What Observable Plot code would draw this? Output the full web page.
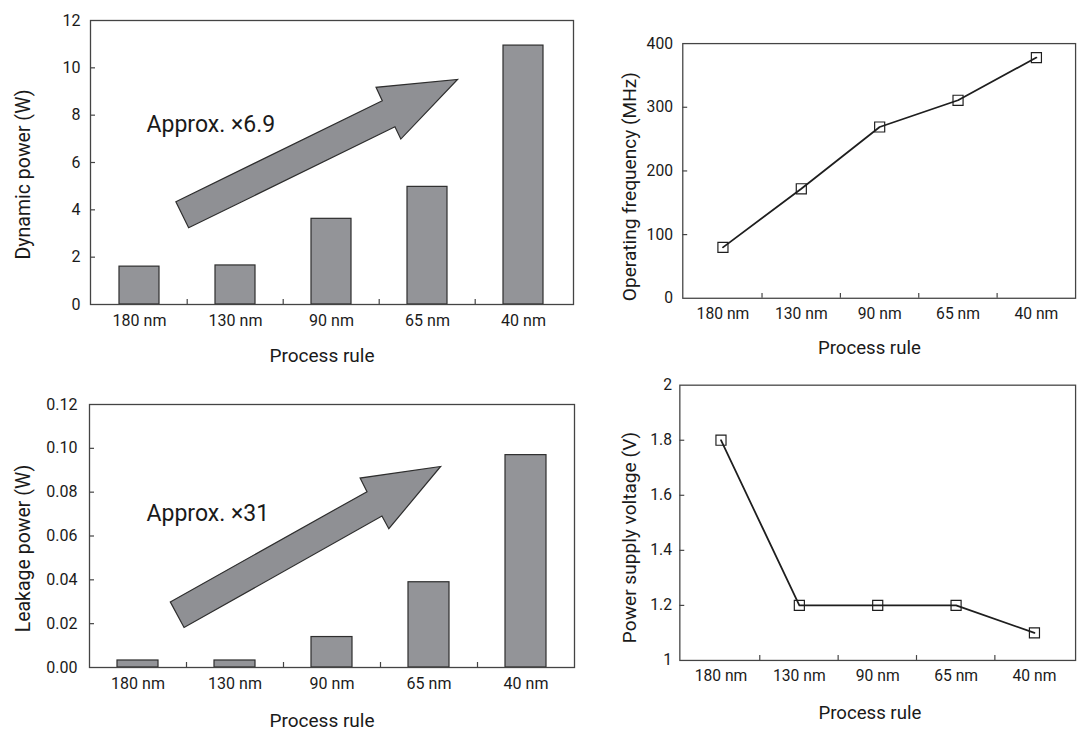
<!DOCTYPE html>
<html><head><meta charset="utf-8">
<script src="https://cdn.jsdelivr.net/npm/d3@7"></script>
<script src="https://cdn.jsdelivr.net/npm/@observablehq/plot@0.6"></script>
<style>
html,body{margin:0;padding:0;background:#fff;}
#fig{position:relative;width:1080px;height:733px;overflow:hidden;font-family:Roboto,"Liberation Sans",sans-serif;}
#fig > div{position:absolute;}
#fig g[aria-label="ytitle"] text{letter-spacing:0.9px;}
</style></head><body><div id="fig"></div>
<script>
// ---- data ----
const processRules = ["180 nm", "130 nm", "90 nm", "65 nm", "40 nm"];
const dynamicPower = [1.6, 1.65, 3.62, 4.97, 10.94];
const leakagePower = [0.0032, 0.0032, 0.0139, 0.0389, 0.0969];
const operatingFrequency = [80, 172, 269, 311, 378];
const supplyVoltage = [1.8, 1.2, 1.2, 1.2, 1.1];
const dynamicTicks = [0, 2, 4, 6, 8, 10, 12];
const leakageTicks = [0, 0.02, 0.04, 0.06, 0.08, 0.10, 0.12];
const frequencyTicks = [0, 100, 200, 300, 400];
const voltageTicks = [1, 1.2, 1.4, 1.6, 1.8, 2];
const xTitle = "Process rule";
const yTitles = ["Dynamic power (W)", "Operating frequency (MHz)", "Leakage power (W)", "Power supply voltage (V)"];
const notes = ["Approx. \u00d76.9", "Approx. \u00d731"];
// arrow outlines in (category index, value) space
const dynamicArrow = [[0.884,4.32],[3.034,8.59],[2.969,9.155],[3.818,9.49],[3.227,6.97],[3.166,7.49],[1.017,3.22]];
const leakageArrow = [[0.838,0.0297],[2.866,0.0800],[2.795,0.0862],[3.625,0.0915],[3.091,0.0631],[3.020,0.0689],[0.980,0.0180]];

const fig = document.getElementById("fig");

function arrowMark(shape) {
  return (index, scales) => {
    const x = scales.x, y = scales.y;
    const bw = x.bandwidth ? x.bandwidth() : 0;
    const st = x(processRules[1]) - x(processRules[0]);
    const px = u => x(processRules[0]) + bw / 2 + (u - 0.5) * st;
    const el = document.createElementNS("http://www.w3.org/2000/svg", "polygon");
    el.setAttribute("points", shape.map(([u, v]) => `${px(u)},${y(v)}`).join(" "));
    el.setAttribute("fill", "#8f9094");
    el.setAttribute("stroke", "#2e2e2e");
    el.setAttribute("stroke-width", "1.2");
    el.setAttribute("stroke-linejoin", "miter");
    return el;
  };
}

function panel(o) {
  const data = processRules.map((r, i) => ({rule: r, value: o.values[i]}));
  const fw = o.width - o.ml - o.mr, fh = o.height - o.mt - o.mb, step = fw / processRules.length;
  const marks = [];
  if (o.kind === "bar") {
    marks.push(Plot.barY(data, {x: "rule", y: "value", fill: "#939498", stroke: "#2e2e2e", strokeWidth: 1.2}));
  } else {
    marks.push(Plot.line(data, {x: "rule", y: "value", stroke: "#1e1e1e", strokeWidth: 1.8}));
    marks.push(Plot.dot(data, {x: "rule", y: "value", symbol: "square", r: 5.8, stroke: "#1e1e1e", strokeWidth: 1.2, fill: "none"}));
  }
  if (o.arrow) marks.push(arrowMark(o.arrow));
  marks.push(Plot.frame({stroke: "#444", strokeWidth: 1.3}));
  marks.push(Plot.tickY(o.ticks.slice(1, -1), {y: d => d, insetRight: fw - 5, stroke: "#444", strokeWidth: 1.2}));
  marks.push(Plot.tickX(processRules.slice(1), {x: d => d, dx: -step / 2, insetTop: fh - 5, stroke: "#444", strokeWidth: 1.2}));
  marks.push(Plot.axisY(o.ticks, {tickSize: 0, tickPadding: o.tickPad, tickFormat: o.tickFormat, label: null, fontSize: 16}));
  marks.push(Plot.axisX({tickSize: 0, tickPadding: 10, label: null, fontSize: 16}));
  marks.push(Plot.text([o.ylabel], {text: d => d, frameAnchor: "left", textAnchor: "middle", lineAnchor: "middle", rotate: -90, dx: o.ylDx, dy: o.ylDy, fontSize: 19.5, ariaLabel: "ytitle"}));
  marks.push(Plot.text([xTitle], {text: d => d, frameAnchor: "bottom", textAnchor: "middle", lineAnchor: "middle", dx: o.xlDx, dy: o.xlDy, fontSize: 19}));
  if (o.note) marks.push(Plot.text([o.note], {text: d => d, frameAnchor: "top-left", textAnchor: "start", lineAnchor: "middle", dx: o.nDx, dy: o.nDy, fontSize: 23}));
  const chart = Plot.plot({
    width: o.width, height: o.height,
    marginLeft: o.ml, marginRight: o.mr, marginTop: o.mt, marginBottom: o.mb,
    x: {type: "band", domain: processRules, paddingInner: 0.58, paddingOuter: 0.29},
    y: {domain: o.domain},
    style: {fontFamily: "Roboto, 'Liberation Sans', sans-serif", fontSize: "16px", color: "#1a1a1a", background: "transparent", overflow: "visible"},
    marks
  });
  const wrap = document.createElement("div");
  wrap.style.left = o.left + "px";
  wrap.style.top = o.top + "px";
  wrap.appendChild(chart);
  fig.appendChild(wrap);
}

panel({left: 0, top: 0, width: 600, height: 370, ml: 90, mr: 27, mt: 20, mb: 66,
  kind: "bar", values: dynamicPower, ticks: dynamicTicks, domain: [0, 12], tickFormat: d => String(d), tickPad: 10,
  ylabel: yTitles[0], ylDx: -67, ylDy: 12, xlDx: -10, xlDy: 51,
  arrow: dynamicArrow, note: notes[0], nDx: 56, nDy: 104});

panel({left: 600, top: 0, width: 490, height: 370, ml: 84, mr: 5, mt: 44, mb: 66,
  kind: "line", values: operatingFrequency, ticks: frequencyTicks, domain: [0, 400], tickFormat: d => String(d), tickPad: 10,
  ylabel: yTitles[1], ylDx: -54, ylDy: 16, xlDx: -10, xlDy: 51});

panel({left: 0, top: 370, width: 600, height: 363, ml: 89, mr: 26, mt: 34, mb: 66,
  kind: "bar", values: leakagePower, ticks: leakageTicks, domain: [0, 0.12], tickFormat: d => d.toFixed(2), tickPad: 12,
  ylabel: yTitles[2], ylDx: -66, ylDy: 12.5, xlDx: -10, xlDy: 53,
  arrow: leakageArrow, note: notes[1], nDx: 57, nDy: 109.5});

panel({left: 600, top: 370, width: 490, height: 363, ml: 81, mr: 5, mt: 15, mb: 67,
  kind: "line", values: supplyVoltage, ticks: voltageTicks, domain: [1, 2], tickFormat: d => String(+d.toFixed(1)), tickPad: 8,
  ylabel: yTitles[3], ylDx: -51, ylDy: 15, xlDx: -8, xlDy: 54});
</script>
</body></html>
